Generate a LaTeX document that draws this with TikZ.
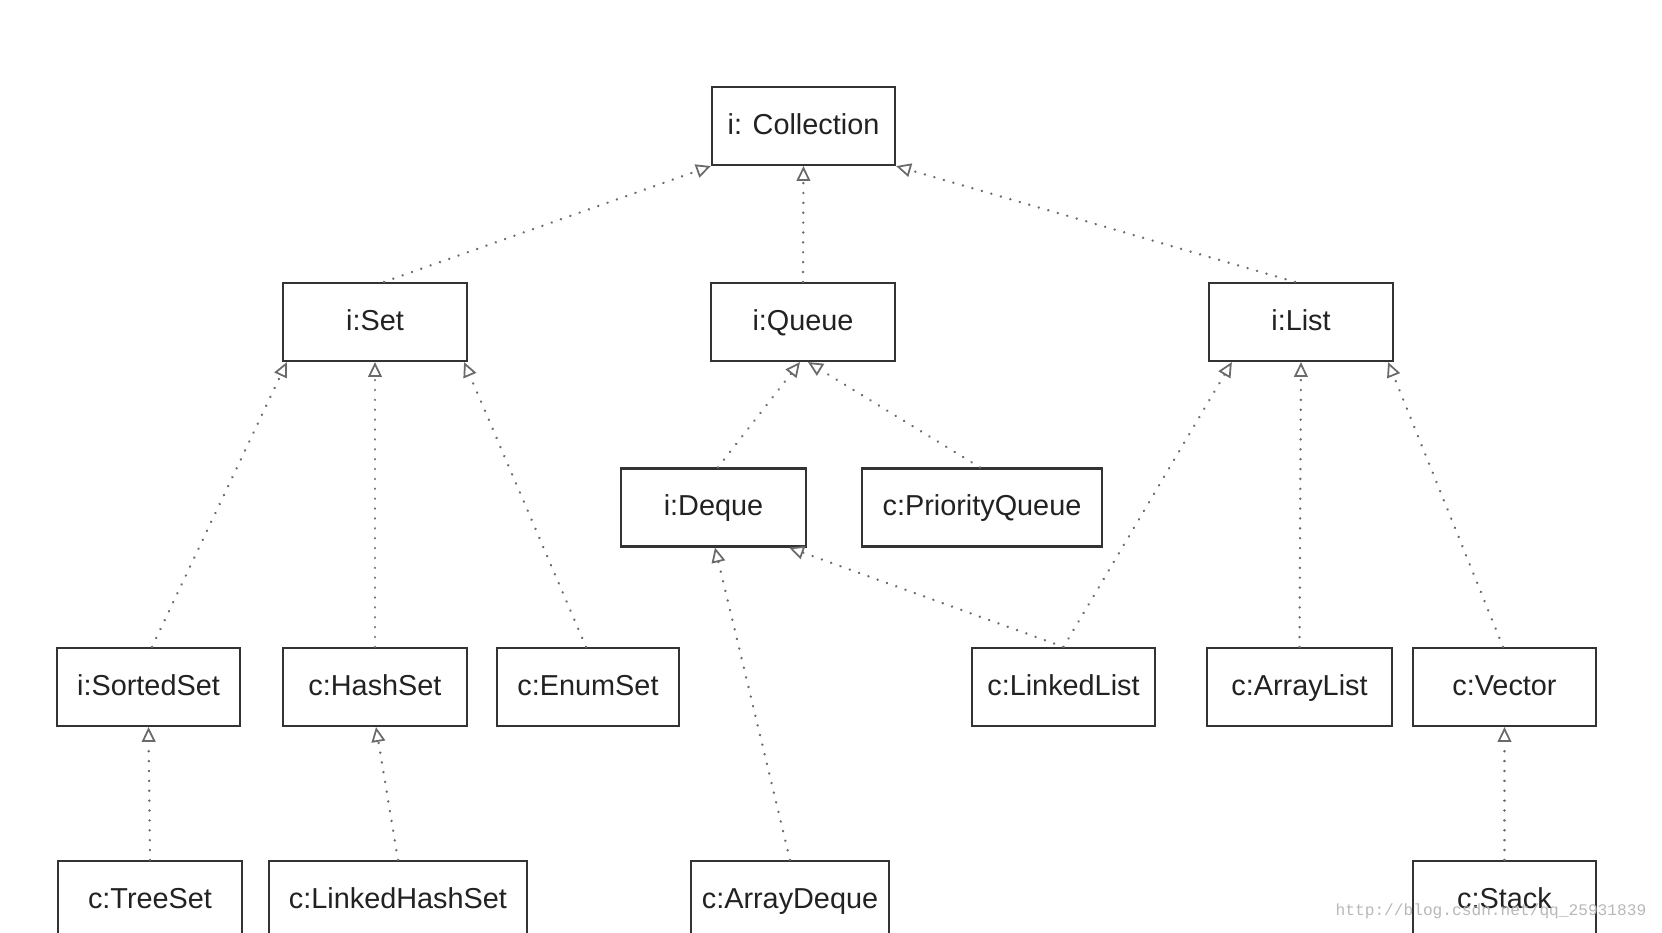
\documentclass[tikz,border=0pt]{standalone}
\usepackage{fontspec}
\setmainfont{Liberation Sans}
\newfontfamily\wmfont{Liberation Mono}
\usetikzlibrary{arrows.meta,calc}
\definecolor{boxline}{HTML}{333333}
\definecolor{dotline}{HTML}{6a6a6a}
\definecolor{txt}{HTML}{222222}
\tikzset{
  cls/.style={draw=boxline, line width=0.6pt, fill=white, minimum height=0.78cm, inner sep=0pt,
    font=\fontsize{8.2}{10}\selectfont, text=txt, text height=6.2pt, text depth=1.6pt},
  impl/.style={draw=dotline, line width=0.75pt, dash pattern=on 0.01pt off 2.8pt, line cap=round,
    -{Triangle[open, length=4.2pt, width=3.9pt, line width=0.5pt, sep=0pt, line cap=butt]}}
}
\begin{document}
\begin{tikzpicture}[x=0.01cm, y=-0.01cm]
\useasboundingbox (0,0) rectangle (1662,932);
\clip (0,0) rectangle (1662,932);
% row 1
\node[cls, minimum width=1.83cm] (coll) at (803.5,126) {i: Collection};
% row 2
\node[cls, minimum width=1.84cm] (set) at (375,322) {i:Set};
\node[cls, minimum width=1.84cm] (queue) at (803,322) {i:Queue};
\node[cls, minimum width=1.84cm] (list) at (1301,322) {i:List};
% row 3
\node[cls, minimum width=1.85cm] (deque) at (713.5,507.5) {i:Deque};
\node[cls, minimum width=2.40cm] (pq) at (982,507.5) {c:PriorityQueue};
% row 4
\node[cls, minimum width=1.83cm] (sorted) at (148.5,687) {i:SortedSet};
\node[cls, minimum width=1.84cm] (hash) at (375,687) {c:HashSet};
\node[cls, minimum width=1.82cm] (enum) at (588,687) {c:EnumSet};
\node[cls, minimum width=1.83cm] (linked) at (1063.5,687) {c:LinkedList};
\node[cls, minimum width=1.85cm] (alist) at (1299.5,687) {c:ArrayList};
\node[cls, minimum width=1.83cm] (vector) at (1504.5,687) {c:Vector};
% row 5
\node[cls, minimum width=1.84cm] (tree) at (150,900) {c:TreeSet};
\node[cls, minimum width=2.58cm] (lhs) at (398,900) {c:LinkedHashSet};
\node[cls, minimum width=1.98cm] (adeque) at (790,900) {c:ArrayDeque};
\node[cls, minimum width=1.83cm] (stack) at (1504.5,900) {c:Stack};
% connectors
\draw[impl] ($(set.north)+(9,0)$) -- (coll.south west);
\draw[impl] (queue.north) -- (coll.south);
\draw[impl] ($(list.north)+(-6,0)$) -- (coll.south east);
\draw[impl] ($(sorted.north)+(3.5,0)$) -- ($(set.south west)+(5,0)$);
\draw[impl] (hash.north) -- (set.south);
\draw[impl] ($(enum.north)+(-2,0)$) -- ($(set.south east)+(-4,0)$);
\draw[impl] ($(deque.north)+(4.5,0)$) -- ($(queue.south)+(-3,0)$);
\draw[impl] ($(pq.north)+(-2,0)$) -- ($(queue.south)+(5,0)$);
\draw[impl] (linked.north) -- ($(list.south west)+(24,0)$);
\draw[impl] (linked.north) -- ($(deque.south east)+(-18,0)$);
\draw[impl] (alist.north) -- (list.south);
\draw[impl] ($(vector.north)+(-1.5,0)$) -- ($(list.south east)+(-6,0)$);
\draw[impl] (tree.north) -- (sorted.south);
\draw[impl] (lhs.north) -- ($(hash.south)+(1,0)$);
\draw[impl] (adeque.north) -- ($(deque.south)+(1.5,0)$);
\draw[impl] (stack.north) -- (vector.south);
% watermark
\node[text=black!28, font=\wmfont\fontsize{4.6}{6}\selectfont, inner sep=0pt] (wm) at (1491,911) {http://blog.csdn.net/qq\_25931839};
\end{tikzpicture}
\end{document}
